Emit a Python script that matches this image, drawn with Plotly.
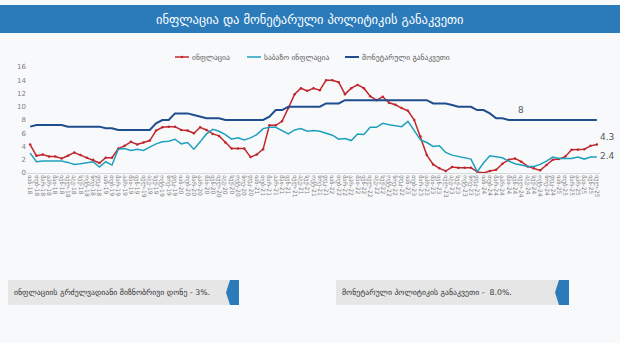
import plotly.graph_objects as go

# ---- data ----
month_names = ["იან", "თებ", "მარ", "აპრ", "მაი", "ივნ", "ივლ", "აგვ", "სექ", "ოქტ", "ნოე", "დეკ"]
years = ["18", "19", "20", "21", "22", "23", "24", "25"]
labels = [f"{m}-{y}" for y in years for m in month_names][:91]

inflation = [
    4.3, 2.6, 2.8, 2.5, 2.5, 2.2, 2.6, 3.1, 2.7, 2.3, 2.0, 1.5,
    2.3, 2.3, 3.7, 4.1, 4.7, 4.3, 4.6, 4.9, 6.4, 6.9, 7.0, 7.0,
    6.5, 6.4, 6.0, 6.9, 6.5, 5.9, 5.6, 4.6, 3.7, 3.7, 3.7, 2.4,
    2.8, 3.6, 7.2, 7.2, 7.8, 9.8, 11.9, 12.8, 12.4, 12.8, 12.5, 14.0,
    14.0, 13.7, 11.9, 12.8, 13.3, 12.8, 11.6, 11.0, 11.5, 10.6, 10.3, 9.8,
    9.4, 8.0, 5.5, 2.7, 1.3, 0.7, 0.3, 0.9, 0.8, 0.8, 0.8, 0.2,
    0.0, 0.3, 0.5, 1.4, 2.0, 2.2, 1.7, 1.0, 0.7, 0.4, 1.2, 2.0,
    2.1, 2.5, 3.5, 3.5, 3.6, 4.1, 4.3,
]
core_inflation = [
    3.0, 1.7, 1.8, 1.8, 1.8, 1.8, 1.6, 1.3, 1.4, 1.6, 1.7, 0.9,
    1.7, 1.2, 3.6, 3.7, 3.4, 3.6, 3.4, 3.9, 4.4, 4.7, 4.8, 5.1,
    4.4, 4.6, 3.6, 4.7, 5.9, 6.6, 6.3, 5.8, 5.1, 5.3, 5.0, 5.3,
    5.8, 6.7, 6.9, 6.9, 6.4, 5.9, 6.5, 6.7, 6.3, 6.4, 6.3, 6.0,
    5.7, 5.1, 5.2, 4.9, 5.9, 5.8, 6.9, 6.9, 7.5, 7.3, 7.2, 7.0,
    7.8, 6.4, 5.0, 4.6, 4.0, 4.1, 3.1, 2.7, 2.5, 2.4, 2.1, 0.2,
    1.5, 2.6, 2.4, 2.3, 1.8, 1.4, 1.2, 1.0, 1.0, 1.3, 1.8, 2.4,
    2.2, 2.2, 2.2, 2.4, 2.1, 2.4, 2.4,
]
policy_rate = [
    7.0, 7.25, 7.25, 7.25, 7.25, 7.25, 7.0, 7.0, 7.0, 7.0, 7.0, 7.0,
    6.75, 6.75, 6.5, 6.5, 6.5, 6.5, 6.5, 6.5, 7.5, 8.0, 8.0, 9.0,
    9.0, 9.0, 8.75, 8.5, 8.25, 8.25, 8.25, 8.0, 8.0, 8.0, 8.0, 8.0,
    8.0, 8.0, 8.5, 9.5, 9.5, 10.0, 10.0, 10.0, 10.0, 10.0, 10.0, 10.5,
    10.5, 10.5, 11.0, 11.0, 11.0, 11.0, 11.0, 11.0, 11.0, 11.0, 11.0, 11.0,
    11.0, 11.0, 11.0, 11.0, 10.5, 10.5, 10.5, 10.25, 10.0, 10.0, 10.0, 9.5,
    9.5, 9.0, 8.25, 8.25, 8.0, 8.0, 8.0, 8.0, 8.0, 8.0, 8.0, 8.0,
    8.0, 8.0, 8.0, 8.0, 8.0, 8.0, 8.0,
]
y_ticks = [0, 2, 4, 6, 8, 10, 12, 14, 16]

series_names = ["ინფლაცია", "საბაზო ინფლაცია", "მონეტარული განაკვეთი"]
title_text = "ინფლაცია და მონეტარული პოლიტიკის განაკვეთი"
box1_text = "ინფლაციის გრძელვადიანი მიზნობრივი დონე - 3%."
box2_text = "მონეტარული პოლიტიკის განაკვეთი -  8.0%."

# ---- layout geometry ----
W, H = 620, 343
ML, MR, MT, MB = 27, 20, 67, 170
PW, PH = W - ML - MR, H - MT - MB


def px(x):
    return (x - ML) / PW


def py(y):
    return (H - MB - y) / PH


FONT = "DejaVu Sans"
RED, CYAN, NAVY = "#c0272d", "#1ea0bd", "#1f4e8f"
BLUE = "#2b7bbb"
colors = [RED, CYAN, NAVY]

fig = go.Figure()
fig.add_trace(go.Scatter(x=labels, y=inflation, name=series_names[0], mode="lines+markers",
                         line=dict(color=RED, width=1.5), marker=dict(size=2.5, color=RED)))
fig.add_trace(go.Scatter(x=labels, y=core_inflation, name=series_names[1], mode="lines",
                         line=dict(color=CYAN, width=1.5)))
fig.add_trace(go.Scatter(x=labels, y=policy_rate, name=series_names[2], mode="lines",
                         line=dict(color=NAVY, width=2)))

shapes = [
    # title bar
    dict(type="rect", xref="paper", yref="paper", x0=px(0), x1=px(620), y0=py(33), y1=py(5),
         fillcolor=BLUE, line=dict(width=0), layer="below"),
    # box 1
    dict(type="rect", xref="paper", yref="paper", x0=px(8), x1=px(232), y0=py(305), y1=py(280),
         fillcolor="#e6e6e6", line=dict(width=0), layer="below"),
    dict(type="path", xref="paper", yref="paper",
         path=f"M {px(230)},{py(280)} L {px(239)},{py(280)} L {px(239)},{py(305)} L {px(230)},{py(305)} L {px(226)},{py(292.5)} Z",
         fillcolor=BLUE, line=dict(width=0)),
    # box 2
    dict(type="rect", xref="paper", yref="paper", x0=px(336), x1=px(561), y0=py(305), y1=py(280),
         fillcolor="#e6e6e6", line=dict(width=0), layer="below"),
    dict(type="path", xref="paper", yref="paper",
         path=f"M {px(559)},{py(280)} L {px(569)},{py(280)} L {px(569)},{py(305)} L {px(559)},{py(305)} L {px(555)},{py(292.5)} Z",
         fillcolor=BLUE, line=dict(width=0)),
]

annotations = [
    dict(text=title_text, xref="paper", yref="paper", x=px(310), y=py(19), showarrow=False,
         font=dict(family=FONT, size=12.5, color="white"), xanchor="center", yanchor="middle"),
    dict(text=box1_text, xref="paper", yref="paper", x=px(12), y=py(292.5), showarrow=False,
         font=dict(family=FONT, size=7.8, color="#333333"), xanchor="left", yanchor="middle"),
    dict(text=box2_text, xref="paper", yref="paper", x=px(340), y=py(292.5), showarrow=False,
         font=dict(family=FONT, size=7.8, color="#333333"), xanchor="left", yanchor="middle"),
    dict(text=f"{policy_rate[78]:g}", x=labels[78], y=policy_rate[78], showarrow=False,
         yshift=10, font=dict(family=FONT, size=9, color="#595959")),
    dict(text=f"{inflation[-1]:g}", x=labels[-1], y=inflation[-1], showarrow=False,
         xshift=10, yshift=8, font=dict(family=FONT, size=9, color="#595959")),
    dict(text=f"{core_inflation[-1]:g}", x=labels[-1], y=core_inflation[-1], showarrow=False,
         xshift=11, yshift=1, font=dict(family=FONT, size=9, color="#595959")),
]

# custom legend (short line samples like the reference)
legend_x = [175, 247, 345]
for name, col, lx in zip(series_names, colors, legend_x):
    shapes.append(dict(type="line", xref="paper", yref="paper", x0=px(lx), x1=px(lx + 14),
                       y0=py(57), y1=py(57), line=dict(color=col, width=2 if col == NAVY else 1.5)))
    annotations.append(dict(text=name, xref="paper", yref="paper", x=px(lx + 15), y=py(57),
                            showarrow=False, xanchor="left", yanchor="middle",
                            font=dict(family=FONT, size=7.5, color="#595959")))
shapes.append(dict(type="circle", xref="paper", yref="paper", x0=px(180.8), x1=px(183.2),
                   y0=py(58.2), y1=py(55.8), fillcolor=RED, line=dict(width=0)))

fig.update_layout(
    width=W, height=H,
    margin=dict(l=ML, r=MR, t=MT, b=MB, pad=0),
    paper_bgcolor="#f8f9fb", plot_bgcolor="#f8f9fb",
    font=dict(family=FONT, color="#595959"),
    showlegend=False,
    shapes=shapes,
    annotations=annotations,
    xaxis=dict(type="category", range=[-0.5, len(labels) - 0.5], tickangle=90,
               tickfont=dict(family=FONT, size=6, color="#7f7f7f"), showgrid=False,
               showline=True, linecolor="#d9d9d9", linewidth=1, ticks="", zeroline=False,
               tickmode="array", tickvals=labels, ticktext=labels),
    yaxis=dict(range=[0, 16], tickvals=y_ticks, tickfont=dict(family=FONT, size=7, color="#7f7f7f"),
               showgrid=False, zeroline=False, showline=False, ticks=""),
)

fig.write_html("out.html")
